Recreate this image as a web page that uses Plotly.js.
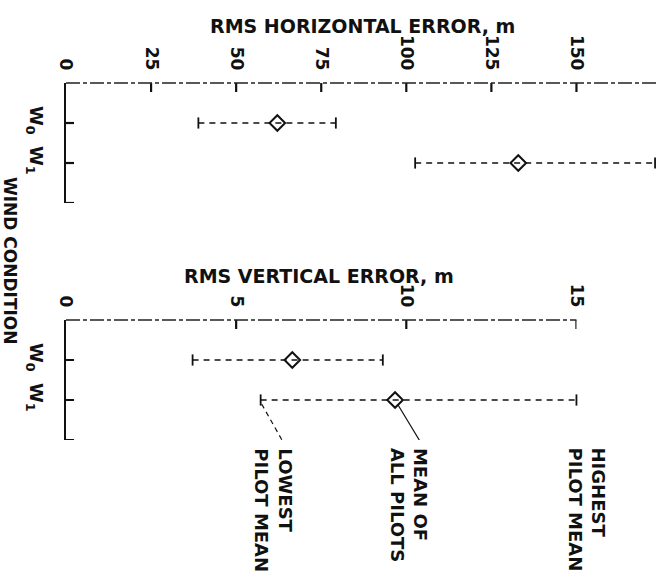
<!DOCTYPE html>
<html>
<head>
<meta charset="utf-8">
<script src="https://cdn.plot.ly/plotly-3.0.1.min.js"></script>
<style>html,body{margin:0;padding:0;background:#fff;}#chart{width:668px;height:579px;}</style>
</head>
<body>
<div id="chart"></div>
<script>
// ---- data ----
const windConditions = ['W<sub>0</sub>', 'W<sub>1</sub>'];
const horizLowest  = [38.9, 102.6];
const horizMean    = [62.1, 132.9];
const horizHighest = [79.3, 173.1];
const vertLowest   = [3.72, 5.72];
const vertMean     = [6.65, 9.67];
const vertHighest  = [9.31, 15.0];
const horizTicks = [0, 25, 50, 75, 100, 125, 150];
const vertTicks  = [0, 5, 10, 15];
const calloutLabels = ['LOWEST<br>PILOT MEAN', 'MEAN OF<br>ALL PILOTS', 'HIGHEST<br>PILOT MEAN'];

// ---- helpers ----
const FONT = 'DejaVu Sans';
const INK = '#111';
const rows = windConditions.map((_, i) => i + 1);

const W = 668, H = 579;
const mL = 66, mR = 11, mT = 83, mB = 139;
const plotW = W - mL - mR, plotH = H - mT - mB;

const topScale = 3.403;          // px per metre (horizontal panel)
const botScale = topScale * 10;  // same drawing scale, x10 units
const rowPx = 40;                // px per row step
const panelH = 3 * rowPx / plotH;
const botDomainEnd = (15 * botScale) / plotW;
const rowTicks = rows.concat([3]);

function panelTraces(low, mean, high, xa, ya) {
  const traces = [];
  rows.forEach((r, i) => {
    traces.push({
      x: [low[i], high[i]], y: [r, r], xaxis: xa, yaxis: ya,
      mode: 'lines', line: {color: INK, width: 1.4, dash: '6px,5px'},
      hoverinfo: 'skip', showlegend: false
    });
  });
  traces.push({
    x: low.concat(high), y: rows.concat(rows), xaxis: xa, yaxis: ya,
    mode: 'markers', marker: {symbol: 'line-ns', size: 8, line: {color: INK, width: 1.8}},
    showlegend: false, cliponaxis: false
  });
  traces.push({
    x: mean, y: rows, xaxis: xa, yaxis: ya,
    mode: 'markers', marker: {symbol: 'diamond-open', size: 12, color: INK, line: {color: INK, width: 2}},
    showlegend: false, cliponaxis: false
  });
  return traces;
}

// tick marks pointing into each panel, drawn on the axes' own scales
function tickTraces(xVals, scale, xa, ya) {
  const tx = [], ty = [];
  xVals.slice(1).forEach(v => { tx.push(v, v, null); ty.push(0, 9 / rowPx, null); });
  rowTicks.forEach(r => { tx.push(0, 8 / scale, null); ty.push(r, r, null); });
  return {x: tx, y: ty, xaxis: xa, yaxis: ya, mode: 'lines', connectgaps: false,
          line: {color: INK, width: 2.2}, hoverinfo: 'skip', showlegend: false};
}

const data = panelTraces(horizLowest, horizMean, horizHighest, 'x', 'y')
  .concat(panelTraces(vertLowest, vertMean, vertHighest, 'x2', 'y2'))
  .concat([tickTraces(horizTicks, topScale, 'x', 'y'), tickTraces(vertTicks, botScale, 'x2', 'y2')]);

const labelAxisX = {
  side: 'top', ticks: '', tickangle: 90, showgrid: false, zeroline: false, showline: false,
  tickfont: {family: FONT, size: 17, color: INK, weight: 'bold'}, ticklabelstandoff: 9
};
const labelAxisY = {
  range: [3, 0], tickvals: rowTicks, ticktext: windConditions.concat(['']),
  ticks: '', showline: true, linewidth: 2.5, linecolor: INK, showgrid: false, zeroline: false,
  tickangle: 90, tickfont: {family: FONT, size: 18, color: INK, weight: 'bold'}, ticklabelstandoff: 12
};

const layout = {
  width: W, height: H,
  margin: {l: mL, r: mR, t: mT, b: mB, pad: 0},
  paper_bgcolor: '#fff', plot_bgcolor: '#fff',
  showlegend: false,
  font: {family: FONT, color: INK},
  xaxis: Object.assign({}, labelAxisX, {domain: [0, 1], range: [0, plotW / topScale], tickvals: horizTicks, anchor: 'y'}),
  yaxis: Object.assign({}, labelAxisY, {domain: [1 - panelH, 1], anchor: 'x'}),
  xaxis2: Object.assign({}, labelAxisX, {domain: [0, botDomainEnd], range: [0, 15], tickvals: vertTicks, anchor: 'y2'}),
  yaxis2: Object.assign({}, labelAxisY, {domain: [0, panelH], anchor: 'x2'}),
  shapes: [
    {type: 'line', xref: 'x domain', yref: 'y domain', x0: 0, x1: 1, y0: 1, y1: 1,
     line: {color: '#222', width: 1.3, dash: '14px,3px,4px,3px'}},
    {type: 'line', xref: 'x2 domain', yref: 'y2 domain', x0: 0, x1: 1, y0: 1, y1: 1,
     line: {color: '#222', width: 1.3, dash: '14px,3px,4px,3px'}},
    // leader lines from W1 points of the vertical panel to the callouts
    {type: 'line', xref: 'x2', yref: 'y2', xsizemode: 'pixel', ysizemode: 'pixel',
     xanchor: vertLowest[1], yanchor: rows[1], x0: 1, x1: 23, y0: -4, y1: -43,
     line: {color: INK, width: 1.2, dash: '5px,4px'}},
    {type: 'line', xref: 'x2', yref: 'y2', xsizemode: 'pixel', ysizemode: 'pixel',
     xanchor: vertMean[1], yanchor: rows[1], x0: 3, x1: 26, y0: -5, y1: -43,
     line: {color: INK, width: 1.2}},
    {type: 'line', xref: 'x2', yref: 'y2', xsizemode: 'pixel', ysizemode: 'pixel',
     xanchor: vertHighest[1], yanchor: rows[1], x0: 1, x1: 22, y0: -5, y1: -43,
     line: {color: INK, width: 1.2, dash: '5px,4px'}}
  ],
  annotations: [
    {text: 'RMS HORIZONTAL ERROR, m', xref: 'paper', yref: 'paper',
     x: (362.5 - mL) / plotW, y: (H - mB - 26.5) / plotH, xanchor: 'center', yanchor: 'middle',
     showarrow: false, font: {family: FONT, size: 19, color: INK, weight: 'bold'}},
    {text: 'RMS VERTICAL ERROR, m', xref: 'paper', yref: 'paper',
     x: (319 - mL) / plotW, y: (H - mB - 276) / plotH, xanchor: 'center', yanchor: 'middle',
     showarrow: false, font: {family: FONT, size: 19, color: INK, weight: 'bold'}},
    {text: 'WIND CONDITION', xref: 'paper', yref: 'paper', textangle: 90,
     x: (10 - mL) / plotW, y: (H - mB - 261) / plotH, xanchor: 'center', yanchor: 'middle',
     showarrow: false, font: {family: FONT, size: 17, color: INK, weight: 'bold'}},
    {text: calloutLabels[0], xref: 'x2', yref: 'y2', x: vertLowest[1], y: rows[1],
     textangle: 90, align: 'left', xanchor: 'center', yanchor: 'top', xshift: 13, yshift: -46,
     showarrow: false, font: {family: FONT, size: 18, color: INK, weight: 'bold'}},
    {text: calloutLabels[1], xref: 'x2', yref: 'y2', x: vertMean[1], y: rows[1],
     textangle: 90, align: 'left', xanchor: 'center', yanchor: 'top', xshift: 14, yshift: -46,
     showarrow: false, font: {family: FONT, size: 18, color: INK, weight: 'bold'}},
    {text: calloutLabels[2], xref: 'x2', yref: 'y2', x: vertHighest[1], y: rows[1],
     textangle: 90, align: 'left', xanchor: 'center', yanchor: 'top', xshift: 11, yshift: -46,
     showarrow: false, font: {family: FONT, size: 18, color: INK, weight: 'bold'}}
  ]
};

Plotly.newPlot('chart', data, layout, {staticPlot: true, displayModeBar: false});
</script>
</body>
</html>
